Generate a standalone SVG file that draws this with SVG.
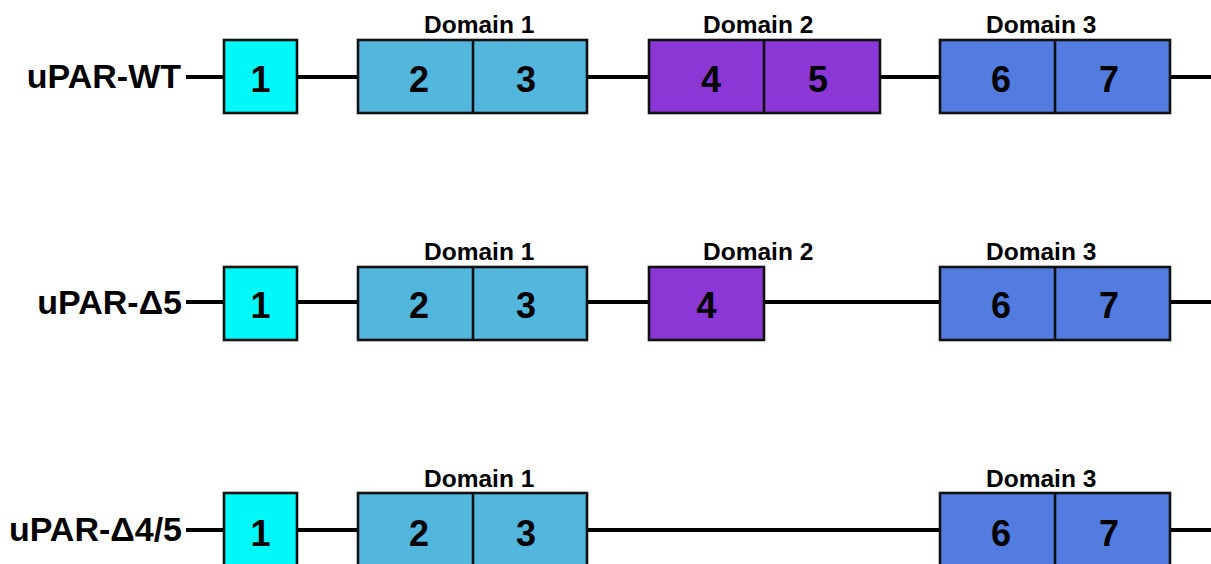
<svg xmlns="http://www.w3.org/2000/svg" width="1211" height="564" viewBox="0 0 1211 564">
<style>
.bg{fill:#ffffff}
.ln{stroke:#000;stroke-width:4;fill:none}
.bx{stroke:#111;stroke-width:2.6}
.dv{stroke:#111;stroke-width:2.6}
.e1{fill:#00F8F8}
.d1{fill:#52B6DD}
.d2{fill:#8B37D5}
.d3{fill:#527CDF}
.num{font-family:"Liberation Sans",Arial,sans-serif;font-weight:bold;font-size:36px;fill:#000;text-anchor:middle}
.dom{font-family:"Liberation Sans",Arial,sans-serif;font-weight:bold;font-size:24.5px;fill:#000}
.lab{font-family:"Liberation Sans",Arial,sans-serif;font-weight:bold;font-size:34px;fill:#000;text-anchor:end}
</style>
<rect class="bg" x="0" y="0" width="1211" height="564"/>
<g id="connectors">
<line class="ln" x1="186" y1="77" x2="1211" y2="77"/>
<line class="ln" x1="186" y1="302" x2="1211" y2="302"/>
<line class="ln" x1="186" y1="530" x2="1211" y2="530"/>
</g>
<g id="row-wt">
<text class="lab" x="181" y="88">uPAR-WT</text>
<g id="wt-exon1"><rect class="bx e1" x="224" y="40" width="73" height="73"/><text class="num" x="260.5" y="92">1</text></g>
<g id="wt-domain1"><rect class="bx d1" x="358" y="40" width="229" height="73"/><line class="dv" x1="473" y1="40" x2="473" y2="113"/><text class="num" x="419" y="92">2</text><text class="num" x="526" y="92">3</text><text class="dom" x="424" y="33">Domain 1</text></g>
<g id="wt-domain2"><rect class="bx d2" x="649" y="40" width="231" height="73"/><line class="dv" x1="764" y1="40" x2="764" y2="113"/><text class="num" x="711" y="92">4</text><text class="num" x="818" y="92">5</text><text class="dom" x="703" y="33">Domain 2</text></g>
<g id="wt-domain3"><rect class="bx d3" x="940" y="40" width="230" height="73"/><line class="dv" x1="1055" y1="40" x2="1055" y2="113"/><text class="num" x="1001" y="92">6</text><text class="num" x="1109" y="92">7</text><text class="dom" x="986" y="33">Domain 3</text></g>
</g>
<g id="row-d5">
<text class="lab" x="182" y="314">uPAR-Δ5</text>
<g id="d5-exon1"><rect class="bx e1" x="224" y="267" width="73" height="73"/><text class="num" x="260.5" y="318">1</text></g>
<g id="d5-domain1"><rect class="bx d1" x="358" y="267" width="229" height="73"/><line class="dv" x1="473" y1="267" x2="473" y2="340"/><text class="num" x="419" y="318">2</text><text class="num" x="526" y="318">3</text><text class="dom" x="424" y="260">Domain 1</text></g>
<g id="d5-domain2"><rect class="bx d2" x="649" y="267" width="115" height="73"/><text class="num" x="706.5" y="318">4</text><text class="dom" x="703" y="260">Domain 2</text></g>
<g id="d5-domain3"><rect class="bx d3" x="940" y="267" width="230" height="73"/><line class="dv" x1="1055" y1="267" x2="1055" y2="340"/><text class="num" x="1001" y="318">6</text><text class="num" x="1109" y="318">7</text><text class="dom" x="986" y="260">Domain 3</text></g>
</g>
<g id="row-d45">
<text class="lab" x="182" y="541">uPAR-Δ4/5</text>
<g id="d45-exon1"><rect class="bx e1" x="224" y="493" width="73" height="73"/><text class="num" x="260.5" y="546">1</text></g>
<g id="d45-domain1"><rect class="bx d1" x="358" y="493" width="229" height="73"/><line class="dv" x1="473" y1="493" x2="473" y2="566"/><text class="num" x="419" y="546">2</text><text class="num" x="526" y="546">3</text><text class="dom" x="424" y="487">Domain 1</text></g>
<g id="d45-domain3"><rect class="bx d3" x="940" y="493" width="230" height="73"/><line class="dv" x1="1055" y1="493" x2="1055" y2="566"/><text class="num" x="1001" y="546">6</text><text class="num" x="1109" y="546">7</text><text class="dom" x="986" y="487">Domain 3</text></g>
</g>
</svg>
